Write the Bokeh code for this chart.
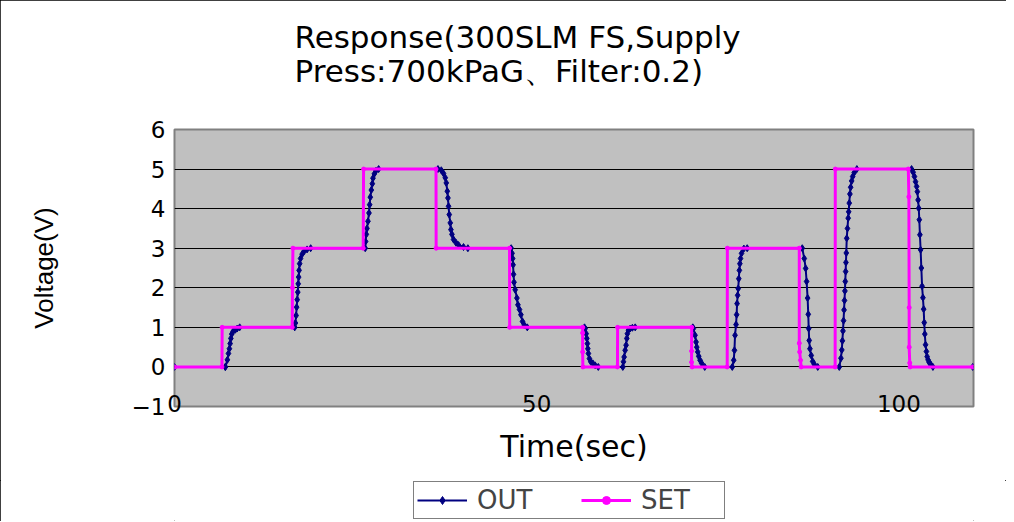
from bokeh.plotting import figure
from bokeh.models import FixedTicker, Legend, LegendItem, Range1d
from bokeh.layouts import column
from bokeh.embed import file_html
from bokeh.resources import INLINE

# ---------------- data ----------------
title_lines = ["Response(300SLM FS,Supply", "Press:700kPaG、Filter:0.2)"]
x_label = "Time(sec)"
y_label = "Voltage(V)"
x_ticks = [0, 50, 100]
y_ticks = [-1, 0, 1, 2, 3, 4, 5, 6]
y_tick_overrides = {-1: "\u22121"}
series_names = ["OUT", "SET"]

out_t = [0, 7.0, 7.03, 7.3, 7.45, 7.58, 7.68, 7.78, 7.9, 8.1, 8.4, 8.65, 9.0,
         16.6, 16.69, 16.79, 16.86, 16.94, 17.02, 17.08, 17.14, 17.2, 17.28, 17.4, 17.62, 17.93, 18.3, 18.8,
         26.33, 26.38, 26.48, 26.57, 26.71, 26.85, 26.94, 27.03, 27.17, 27.31, 27.4, 27.59, 27.82, 28.18,
         36.37, 36.83, 37.14, 37.38, 37.52, 37.66, 37.75, 37.83, 37.93, 38.07, 38.16, 38.3, 38.52, 38.85, 39.21, 39.9, 40.5,
         46.48, 46.6, 46.68, 46.74, 46.8, 46.87, 47.03, 47.27, 47.41, 47.63, 47.82, 48.04, 48.28, 48.7,
         56.6, 56.69, 56.83, 56.92, 57.0, 57.06, 57.14, 57.28, 57.47, 57.75, 58.07, 58.5,
         61.89, 61.98, 62.07, 62.21, 62.34, 62.44, 62.52, 62.66, 62.9, 63.21, 63.6,
         71.55, 71.63, 71.86, 72.0, 72.1, 72.23, 72.37, 72.55, 72.78, 73.2,
         77.0, 77.2, 77.3, 77.38, 77.52, 77.6, 77.66, 77.74, 77.82, 77.9, 77.98, 78.05, 78.14, 78.28, 78.6, 79.06,
         86.66, 86.94, 87.13, 87.26, 87.4, 87.49, 87.55, 87.62, 87.72, 87.9, 88.1, 88.34, 88.8,
         91.77, 92.0, 92.12, 92.2, 92.28, 92.36, 92.43, 92.49, 92.55, 92.6, 92.65, 92.69, 92.74, 92.8, 92.9, 93.0,
         93.07, 93.15, 93.24, 93.34, 93.48, 93.62, 93.83, 94.2,
         101.75, 101.97, 102.15, 102.3, 102.45, 102.55, 102.65, 102.74, 102.82, 102.9, 103.0, 103.1, 103.2, 103.32,
         103.42, 103.5, 103.58, 103.68, 103.8, 103.9, 104.03, 104.17, 104.37, 104.7,
         110.2]
out_v = [0, 0, 0, 0.18, 0.34, 0.46, 0.59, 0.72, 0.83, 0.9, 0.94, 0.97, 1.0,
         1.0, 1.11, 1.3, 1.51, 1.7, 1.89, 2.1, 2.27, 2.44, 2.61, 2.74, 2.85, 2.93, 2.97, 3.0,
         3.0, 3.17, 3.35, 3.5, 3.68, 3.89, 4.1, 4.29, 4.47, 4.63, 4.77, 4.88, 4.96, 5.0,
         5.0, 4.97, 4.89, 4.78, 4.65, 4.44, 4.27, 4.06, 3.85, 3.64, 3.47, 3.35, 3.22, 3.14, 3.08, 3.03, 3.0,
         3.0, 2.87, 2.74, 2.58, 2.34, 2.14, 1.95, 1.74, 1.57, 1.45, 1.32, 1.15, 1.06, 1.0,
         1.0, 0.97, 0.84, 0.72, 0.59, 0.46, 0.34, 0.21, 0.13, 0.09, 0.04, 0.0,
         0.0, 0.13, 0.25, 0.42, 0.55, 0.72, 0.84, 0.93, 0.97, 0.99, 1.0,
         1.0, 0.97, 0.8, 0.63, 0.5, 0.38, 0.27, 0.17, 0.09, 0.0,
         0.0, 0.17, 0.42, 0.8, 1.07, 1.32, 1.6, 1.81, 1.98, 2.23, 2.44, 2.61, 2.74, 2.87, 2.99, 3.0,
         3.0, 2.74, 2.49, 2.16, 1.74, 1.33, 0.97, 0.67, 0.46, 0.29, 0.14, 0.06, 0.0,
         0.0, 0.22, 0.43, 0.66, 0.91, 1.17, 1.44, 1.68, 1.92, 2.16, 2.41, 2.64, 2.88, 3.25, 3.5, 3.76,
         3.92, 4.14, 4.37, 4.54, 4.7, 4.81, 4.91, 5.0,
         5.0, 4.92, 4.81, 4.68, 4.56, 4.43, 4.22, 4.01, 3.72, 3.34, 2.96, 2.5, 2.04, 1.75,
         1.46, 1.12, 0.83, 0.56, 0.39, 0.26, 0.18, 0.12, 0.07, 0.0,
         0.0]

set_t = [0, 6.55, 6.58, 16.25, 16.28, 16.35, 26.05, 26.1, 36.1, 36.12, 46.25, 46.27,
         56.35, 56.34, 56.34, 56.38, 61.15, 61.17, 71.4, 71.38, 71.38, 71.45,
         76.3, 76.32, 86.25, 86.25, 86.3, 86.42, 86.5, 91.2, 91.22,
         101.3, 101.38, 101.42, 101.42, 101.5, 101.55, 110.2]
set_v = [0, 0, 1, 1, 2.0, 3, 3, 5, 5, 3, 3, 1,
         1, 0.86, 0.38, 0, 0, 1, 1, 0.4, 0.12, 0,
         0, 3, 3, 0.6, 0.38, 0.17, 0, 0, 5,
         5, 4.3, 1.5, 0.5, 0.1, 0, 0]

OUT_COLOR = "#000080"
SET_COLOR = "#FF00FF"

# ---------------- main figure ----------------
p = figure(title="\n".join(title_lines) + "\n",
           frame_width=799, frame_height=277,
           min_border_left=174, min_border_right=33, min_border_top=129, min_border_bottom=74,
           x_range=Range1d(0, 110.3), y_range=Range1d(-1, 6),
           output_backend="svg", toolbar_location=None)

p.title.align = "left"
p.title.offset = 120
p.title.vertical_align = "bottom"
p.title.standoff = 13
p.title.text_font = "DejaVu Sans"
p.title.text_font_size = "31px"
p.title.text_font_style = "normal"
p.title.text_line_height = 0.95
p.title.text_color = "black"

p.background_fill_color = "#C0C0C0"
p.border_fill_color = "white"
p.outline_line_color = "#808080"
p.outline_line_width = 2

p.xgrid.visible = False
p.ygrid.ticker = FixedTicker(ticks=y_ticks)
p.ygrid.grid_line_color = "black"
p.ygrid.grid_line_width = 1

for ax in (p.xaxis, p.yaxis):
    ax.axis_line_color = None
    ax.major_tick_line_color = None
    ax.minor_tick_line_color = None
    ax.major_tick_out = 0
    ax.major_tick_in = 0
    ax.major_label_text_font = "DejaVu Sans"
    ax.major_label_text_font_size = "23px"
    ax.major_label_text_color = "black"
    ax.axis_label_text_color = "black"
    ax.axis_label_text_font_style = "normal"

p.xaxis.ticker = FixedTicker(ticks=x_ticks)
p.yaxis.ticker = FixedTicker(ticks=y_ticks)
p.yaxis.major_label_overrides = y_tick_overrides
p.xaxis.major_label_standoff = -12
p.yaxis.major_label_standoff = 9

p.xaxis.axis_label = x_label
p.xaxis.axis_label_text_font = "DejaVu Sans"
p.xaxis.axis_label_text_font_size = "30px"
p.xaxis.axis_label_standoff = 14

p.yaxis.axis_label = y_label
p.yaxis.axis_label_text_font = "Liberation Sans"
p.yaxis.axis_label_text_font_size = "26px"
p.yaxis.axis_label_standoff = 70

p.line(out_t, out_v, line_color=OUT_COLOR, line_width=2)
p.scatter(out_t, out_v, marker="diamond", size=7, fill_color=OUT_COLOR, line_color=OUT_COLOR)
p.line(set_t, set_v, line_color=SET_COLOR, line_width=3)
p.scatter(set_t, set_v, marker="circle", size=4, fill_color=SET_COLOR, line_color=SET_COLOR)

# ---------------- legend strip ----------------
q = figure(width=1006, height=41, x_range=Range1d(-2, -1), y_range=Range1d(0, 1),
           x_axis_type=None, y_axis_type=None, min_border=0,
           output_backend="svg", toolbar_location=None)
q.outline_line_color = None
q.background_fill_color = "white"
q.border_fill_color = "white"

# swatch renderers: first sample of each series, which lies outside this strip's range
lo = q.line(x=out_t[:2], y=out_v[:2], line_color=OUT_COLOR, line_width=2)
so = q.scatter(x=out_t[:1], y=out_v[:1], marker="diamond", size=7, fill_color=OUT_COLOR, line_color=OUT_COLOR)
ls = q.line(x=set_t[:2], y=set_v[:2], line_color=SET_COLOR, line_width=3)
ss = q.scatter(x=set_t[:1], y=set_v[:1], marker="circle", size=4, fill_color=SET_COLOR, line_color=SET_COLOR)

legend = Legend(items=[LegendItem(label=series_names[0], renderers=[lo, so]),
                       LegendItem(label=series_names[1], renderers=[ls, ss])],
                location=(239, 2), orientation="horizontal",
                border_line_color="black", border_line_width=1,
                background_fill_color="white", background_fill_alpha=1,
                label_text_font="DejaVu Sans", label_text_font_size="26px",
                glyph_width=50, label_standoff=10, spacing=24, padding=3, margin=0,
                label_width=80)
q.add_layout(legend)

layout = column(p, q, spacing=0)
layout.styles = {"outline": "1px solid black", "outline-offset": "-1px"}

open("out.html", "w").write(file_html(layout, INLINE))
